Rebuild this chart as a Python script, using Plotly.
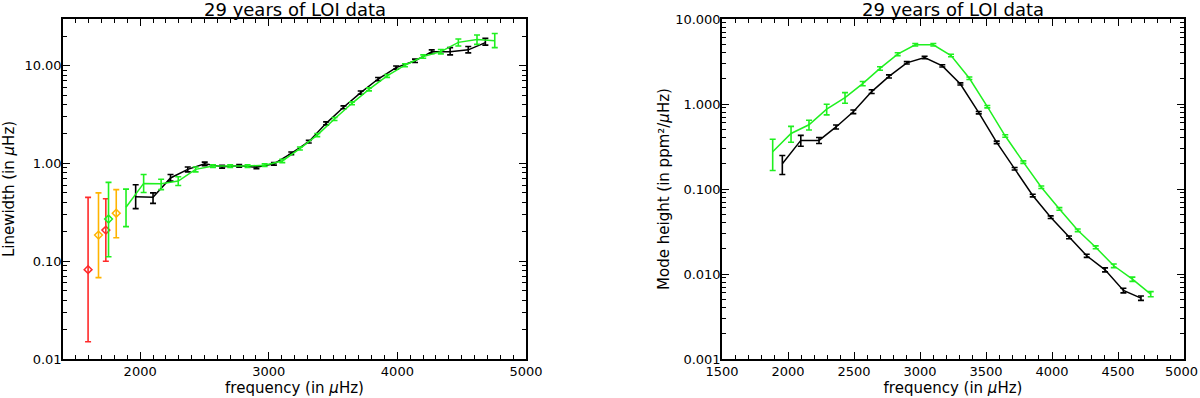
import plotly.graph_objects as go

# left panel: linewidth
freq_lw_k = [1965, 2100, 2236, 2370, 2502, 2637, 2770, 2904, 3040, 3175, 3311,
             3446, 3581, 3715, 3850, 3990, 4137, 4267, 4410, 4551, 4684]
lw_k = [0.455, 0.45, 0.71, 0.87, 0.99, 0.925, 0.945, 0.915, 0.99, 1.27, 1.67,
        2.57, 3.75, 5.3, 7.3, 9.55, 11.2, 13.9, 13.9, 14.5, 17.2]
lw_k_up = [0.15, 0.05, 0.06, 0.05, 0.04, 0.03, 0.03, 0.03, 0.03, 0.04, 0.05,
           0.09, 0.13, 0.2, 0.27, 0.35, 0.45, 0.6, 1.4, 1.2, 1.8]
lw_k_dn = [0.11, 0.06, 0.05, 0.05, 0.04, 0.03, 0.03, 0.03, 0.03, 0.04, 0.05,
           0.09, 0.13, 0.2, 0.27, 0.35, 0.45, 0.6, 1.0, 1.0, 1.0]

freq_lw_g = [1890, 2027, 2163, 2296, 2431, 2566, 2700, 2835, 2968, 3105, 3242,
             3377, 3511, 3647, 3779, 3920, 4059, 4201, 4338, 4474, 4619, 4757]
lw_g = [0.356, 0.625, 0.62, 0.66, 0.87, 0.94, 0.94, 0.94, 0.96, 1.06, 1.42,
        1.95, 2.85, 4.12, 5.72, 7.85, 10.1, 12.4, 13.9, 17.3, 18.5, 18.0]
lw_g_up = [0.19, 0.145, 0.07, 0.07, 0.05, 0.03, 0.03, 0.03, 0.03, 0.04, 0.05,
           0.07, 0.1, 0.14, 0.2, 0.27, 0.35, 0.5, 0.7, 1.4, 2.1, 3.3]
lw_g_dn = [0.13, 0.12, 0.08, 0.065, 0.05, 0.03, 0.03, 0.03, 0.03, 0.04, 0.05,
           0.07, 0.1, 0.14, 0.2, 0.27, 0.35, 0.5, 0.7, 1.4, 2.0, 2.7]

# isolated low-frequency modes
freq_red = [1595, 1733]
lw_red = [0.082, 0.208]
lw_red_hi = [0.45, 0.435]
lw_red_lo = [0.015, 0.10]
freq_orange = [1676, 1814]
lw_orange = [0.185, 0.31]
lw_orange_hi = [0.50, 0.54]
lw_orange_lo = [0.068, 0.174]
freq_green1 = [1754]
lw_green1 = [0.27]
lw_green1_hi = [0.64]
lw_green1_lo = [0.111]

# right panel: mode height
freq_h_k = [1957, 2097, 2235, 2364, 2495, 2634, 2765, 2900, 3035, 3169, 3306,
            3445, 3581, 3717, 3854, 3990, 4129, 4263, 4402, 4541, 4674]
h_k = [0.198, 0.373, 0.373, 0.537, 0.81, 1.40, 2.11, 3.05, 3.52, 2.81, 1.72,
       0.79, 0.354, 0.173, 0.0838, 0.0466, 0.027, 0.0164, 0.0112, 0.0064, 0.0052]
h_k_err = [0.05, 0.055, 0.03, 0.03, 0.04, 0.07, 0.09, 0.1, 0.12, 0.09, 0.05,
           0.025, 0.012, 0.006, 0.003, 0.0017, 0.001, 0.0007, 0.0006, 0.0004, 0.0003]

freq_h_g = [1884, 2023, 2159, 2293, 2432, 2566, 2697, 2831, 2964, 3101, 3235,
            3374, 3510, 3646, 3783, 3919, 4056, 4195, 4331, 4468, 4609, 4748]
h_g = [0.275, 0.45, 0.57, 0.87, 1.19, 1.74, 2.62, 3.86, 4.98, 4.98, 3.72,
       2.01, 0.93, 0.42, 0.207, 0.105, 0.0583, 0.0327, 0.0206, 0.0125, 0.0087, 0.0058]
h_g_err = [0.11, 0.095, 0.075, 0.125, 0.17, 0.1, 0.12, 0.15, 0.17, 0.17, 0.13,
           0.07, 0.03, 0.014, 0.007, 0.0035, 0.002, 0.0012, 0.0008, 0.0006, 0.0005, 0.0004]

lw_ticks = [0.01, 0.1, 1, 10]
lw_ticktext = ["0.01", "0.10", "1.00", "10.00"]
h_ticks = [0.001, 0.01, 0.1, 1, 10]
h_ticktext = ["0.001", "0.010", "0.100", "1.000", "10.000"]
freq2_ticks = [1500, 2000, 2500, 3000, 3500, 4000, 4500]
freq2_last = "5000"  # sits on the figure edge, plotly hides it as a tick label

BLACK = "black"
GREEN = "#1ff01f"
RED = "#ff2a2a"
ORANGE = "#ffb400"
FONT = "DejaVu Sans"

W, H = 1200, 398


def xdom(a, b):
    return [a / W, b / W]


def line_trace(x, y, up, dn, color, xa, ya):
    return go.Scatter(x=x, y=y, mode="lines", line=dict(color=color, width=1.5),
                      error_y=dict(type="data", symmetric=False, array=up, arrayminus=dn,
                                   color=color, thickness=1.6, width=3),
                      xaxis=xa, yaxis=ya, showlegend=False)


def point_trace(x, y, hi, lo, color):
    return go.Scatter(x=x, y=y, mode="markers",
                      marker=dict(symbol="diamond-open", size=6, color=color,
                                  line=dict(width=1.5, color=color)),
                      error_y=dict(type="data", symmetric=False,
                                   array=[h - v for h, v in zip(hi, y)],
                                   arrayminus=[v - l for v, l in zip(y, lo)],
                                   color=color, thickness=1.6, width=3),
                      xaxis="x", yaxis="y", showlegend=False)


fig = go.Figure()
fig.add_trace(line_trace(freq_lw_k, lw_k, lw_k_up, lw_k_dn, BLACK, "x", "y"))
fig.add_trace(line_trace(freq_lw_g, lw_g, lw_g_up, lw_g_dn, GREEN, "x", "y"))
fig.add_trace(point_trace(freq_red, lw_red, lw_red_hi, lw_red_lo, RED))
fig.add_trace(point_trace(freq_orange, lw_orange, lw_orange_hi, lw_orange_lo, ORANGE))
fig.add_trace(point_trace(freq_green1, lw_green1, lw_green1_hi, lw_green1_lo, GREEN))

fig.add_trace(line_trace(freq_h_g, h_g, h_g_err, h_g_err, GREEN, "x2", "y2"))
fig.add_trace(line_trace(freq_h_k, h_k, h_k_err, h_k_err, BLACK, "x2", "y2"))

minor_log = [m * 10 ** e for e in range(-3, 2) for m in range(2, 10)]
tickfont = dict(family=FONT, size=13, color="black")
titlefont = dict(family=FONT, size=15, color="black")

common_x = dict(showgrid=False, zeroline=False, showline=True, linecolor="black",
                linewidth=1.5, mirror="ticks", ticks="inside", ticklen=7,
                tickwidth=1.2, tickcolor="black", tickfont=tickfont, automargin=False,
                minor=dict(ticks="inside", ticklen=4, tickwidth=1, tickcolor="black", dtick=100))
common_y = dict(type="log", showgrid=False, zeroline=False, showline=True,
                linecolor="black", linewidth=1.5, mirror="ticks", ticks="inside",
                ticklen=7, tickwidth=1.2, tickcolor="black", tickfont=tickfont,
                automargin=False, ticklabelstandoff=-3,
                minor=dict(ticks="inside", ticklen=4, tickwidth=1, tickcolor="black",
                           tickvals=minor_log))

ydom = [1 - 359 / H, 1 - 19 / H]
title_y = 1 - 9 / H

fig.update_layout(
    width=W, height=H,
    margin=dict(l=0, r=0, t=0, b=0),
    paper_bgcolor="white", plot_bgcolor="white",
    xaxis=dict(common_x, domain=xdom(63, 526), range=[1400, 5000],
               tickvals=[2000, 3000, 4000, 5000], anchor="y",
               title=dict(text="frequency (in <i>μ</i>Hz)", font=titlefont, standoff=2)),
    yaxis=dict(common_y, domain=ydom, range=[-2, 1.477],
               tickvals=lw_ticks, ticktext=lw_ticktext, anchor="x",
               title=dict(text="Linewidth (in <i>μ</i>Hz)", font=titlefont, standoff=8)),
    xaxis2=dict(common_x, domain=xdom(722, 1184), range=[1500, 5000],
                tickvals=freq2_ticks, anchor="y2",
                title=dict(text="frequency (in <i>μ</i>Hz)", font=titlefont, standoff=2)),
    yaxis2=dict(common_y, domain=ydom, range=[-3, 1],
                tickvals=h_ticks, ticktext=h_ticktext, anchor="x2",
                title=dict(text="Mode height (in ppm²/<i>μ</i>Hz)", font=titlefont, standoff=2)),
    annotations=[
        dict(text="29 years of LOI data", x=sum(xdom(63, 526)) / 2, y=title_y,
             xref="paper", yref="paper", xanchor="center", yanchor="middle",
             showarrow=False, font=dict(family=FONT, size=18, color="black")),
        dict(text="29 years of LOI data", x=sum(xdom(722, 1184)) / 2, y=title_y,
             xref="paper", yref="paper", xanchor="center", yanchor="middle",
             showarrow=False, font=dict(family=FONT, size=18, color="black")),
        dict(text=freq2_last, x=1, xref="paper", y=ydom[0], yref="paper",
             xanchor="right", yanchor="top", yshift=-3, showarrow=False,
             font=tickfont),
    ],
)

# drop the default 8px page margin so the figure fills the window
fig.write_html("out.html", config={"displayModeBar": False},
               post_script="document.body.style.margin = '0';")
